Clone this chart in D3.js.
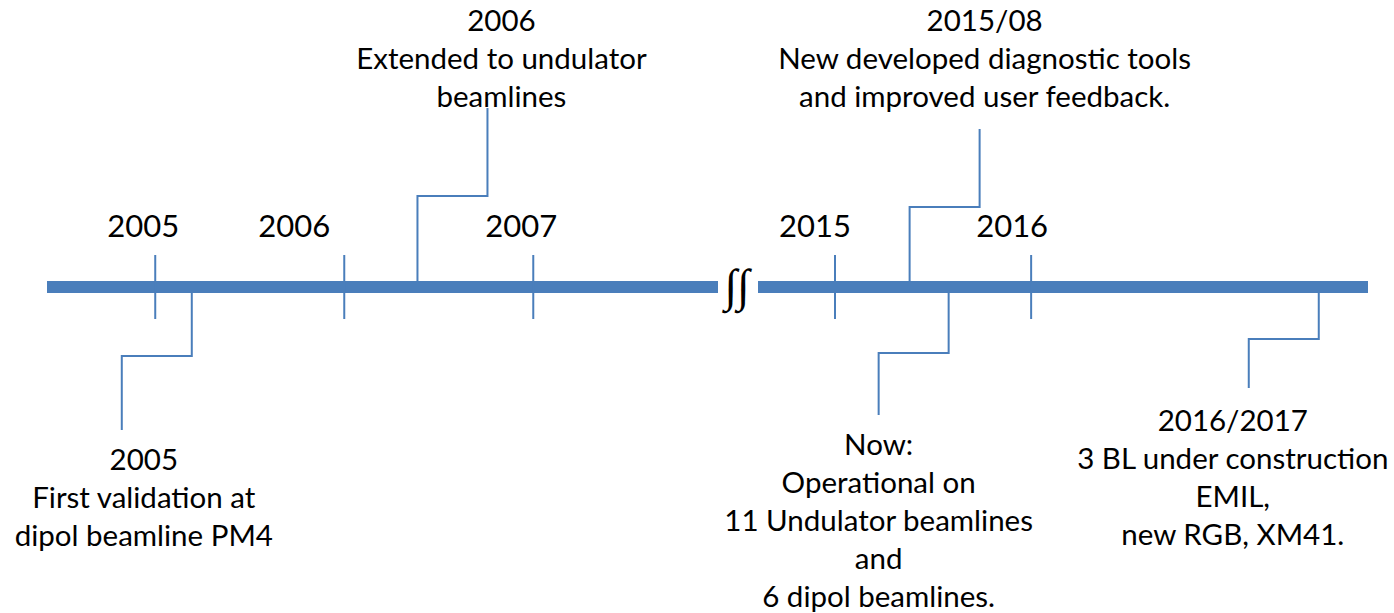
<!DOCTYPE html>
<html>
<head>
	<meta charset="utf-8">
	<title>Timeline</title>
	<script src="https://cdn.jsdelivr.net/npm/d3@7"></script>
	<style>
		body { margin: 0; background: #fff; font-family: Lato, "Open Sans", sans-serif; }
		svg text { fill: #000; }
	</style>
</head>
<body>
	<div id="chart"></div>
	<script>

		// data

		const leftYears  = [2005, 2006, 2007];
		const rightYears = [2015, 2016];
		const leftDomain  = [2004.43, 2007.98];
		const rightDomain = [2014.61, 2017.72];

		const eventDates  = [2005.196, 2006.39, 2015.383, 2015.582, 2017.469];
		const eventSide   = ["down", "up", "up", "down", "down"];
		const eventTexts  = [
			["2005", "First validation at", "dipol beamline PM4"],
			["2006", "Extended to undulator", "beamlines"],
			["2015/08", "New developed diagnostic tools", "and improved user feedback."],
			["Now:", "Operational on", "11 Undulator beamlines", "and", "6 dipol beamlines."],
			["2016/2017", "3 BL under construction", "EMIL,", "new RGB, XM41."]
		];

		// layout

		const width = 1394, height = 613;
		const axisY = 287;
		const color = "#4a7ebb";
		const leftLabelDx  = [-12, -50, -12];
		const rightLabelDx = [-20, -19];
		// elbow y, end y, label dx from connector end, first label baseline
		const layout = [
			{ elbow: 356, end: 430, tdx: 22,  ty: 470 },
			{ elbow: 196, end: 108, tdx: 14,  ty: 31 },
			{ elbow: 207, end: 129, tdx: 5,   ty: 31 },
			{ elbow: 353, end: 415, tdx: 0,   ty: 455 },
			{ elbow: 339, end: 388, tdx: -16, ty: 431 }
		];

		const svg = d3.select("#chart").append("svg")
			.attr("width", width)
			.attr("height", height)
			.attr("viewBox", [0, 0, width, height]);

		const xLeft  = d3.scaleLinear(leftDomain,  [47, 718]);
		const xRight = d3.scaleLinear(rightDomain, [758, 1368]);
		const xOf = d => d < 2010 ? xLeft(d) : xRight(d);

		// thick bars
		[xLeft, xRight].forEach(s => {
			svg.append("line")
				.attr("x1", s.range()[0]).attr("x2", s.range()[1])
				.attr("y1", axisY).attr("y2", axisY)
				.attr("stroke", color).attr("stroke-width", 12);
		});

		// ticks + year labels
		[[xLeft, leftYears, leftLabelDx], [xRight, rightYears, rightLabelDx]].forEach(([s, yrs, dxs]) => {
			svg.append("g")
				.attr("transform", `translate(0,${axisY + 32})`)
				.call(d3.axisTop(s).tickValues(yrs).tickFormat(d3.format("d"))
					.tickSize(64).tickPadding(18))
				.call(g => g.select(".domain").remove())
				.call(g => g.selectAll(".tick line").attr("stroke", color).attr("stroke-width", 2))
				.call(g => g.selectAll(".tick text")
					.attr("dx", (d, i) => dxs[i])
					.style("font-family", "Lato, sans-serif")
					.style("font-size", "31px")
					.attr("fill", "#000"));
		});

		// break symbol
		svg.append("text")
			.attr("x", 737).attr("y", axisY + 14)
			.attr("text-anchor", "middle")
			.style("font-family", "'Liberation Serif', serif")
			.style("font-style", "italic")
			.style("font-size", "46px")
			.attr("letter-spacing", 0)
			.text("\u222B\u222B");

		// event connectors and labels
		eventDates.forEach((d, i) => {
			const x0 = xOf(d);
			const up = eventSide[i] === "up";
			const x1 = x0 + (up ? 70 : -70);
			const L = layout[i];
			const y0 = up ? axisY - 6 : axisY + 6;
			svg.append("path")
				.attr("d", d3.line()([[x0, y0], [x0, L.elbow], [x1, L.elbow], [x1, L.end]]))
				.attr("fill", "none")
				.attr("stroke", color)
				.attr("stroke-width", 2);

			const t = svg.append("text")
				.attr("text-anchor", "middle")
				.style("font-family", "Lato, sans-serif")
				.style("font-size", "29.5px");
			eventTexts[i].forEach((line, j) => {
				t.append("tspan")
					.attr("x", x1 + L.tdx)
					.attr("y", L.ty + j * 38)
					.text(line);
			});
		});

	</script>
</body>
</html>
